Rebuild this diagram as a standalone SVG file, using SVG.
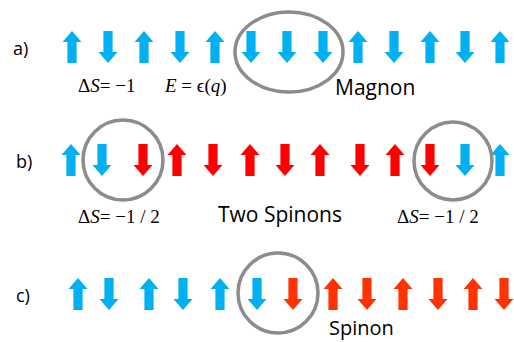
<svg xmlns="http://www.w3.org/2000/svg" width="514" height="342" viewBox="0 0 514 342">
<defs>
<path id="up" d="M0,0 L9.5,11 L4.6,11 L4.6,32 L-4.6,32 L-4.6,11 L-9.5,11 Z"/>
<path id="dn" d="M0,32 L9.5,21 L4.6,21 L4.6,0 L-4.6,0 L-4.6,21 L-9.5,21 Z"/>
</defs>
<style>
.b{fill:#00B0F0}
.r{fill:#FF0000}
.o{fill:#FF3300}
.ring{fill:none;stroke:#8C8C8C;stroke-width:3.5}
.lbl{font-family:"Open Sans","DejaVu Sans",sans-serif;font-size:18px;fill:#000}
.word{font-family:"Open Sans","DejaVu Sans",sans-serif;font-size:21px;fill:#000}
.math{font-family:"Liberation Serif","Times New Roman",serif;font-size:19px;fill:#000}
.it{font-style:italic}
</style>
<rect width="514" height="342" fill="#fff"/>
<g id="rowA">
<text class="lbl" x="13" y="55">a)</text>
<g transform="translate(0,31)">
<use href="#up" x="72" class="b"/><use href="#dn" x="108" class="b"/><use href="#up" x="144" class="b"/><use href="#dn" x="180" class="b"/><use href="#up" x="215" class="b"/><use href="#dn" x="251" class="b"/><use href="#dn" x="287" class="b"/><use href="#dn" x="323" class="b"/><use href="#up" x="358" class="b"/><use href="#dn" x="394" class="b"/><use href="#up" x="430" class="b"/><use href="#dn" x="465" class="b"/><use href="#up" x="500" class="b"/>
</g>
<ellipse class="ring" cx="289" cy="52" rx="54" ry="40"/>
<text class="math" x="78" y="92">Δ<tspan class="it">S</tspan>= −1</text>
<text class="math" x="165" y="92"><tspan class="it">E</tspan> = ϵ(<tspan class="it">q</tspan>)</text>
<text class="word" x="335" y="95">Magnon</text>
</g>
<g id="rowB">
<text class="lbl" x="16" y="168">b)</text>
<g transform="translate(0,144)">
<use href="#up" x="71" class="b"/><use href="#dn" x="102" class="b"/><use href="#dn" x="143" class="r"/><use href="#up" x="177" class="r"/><use href="#dn" x="213" class="r"/><use href="#up" x="250" class="r"/><use href="#dn" x="285" class="r"/><use href="#up" x="320" class="r"/><use href="#dn" x="360" class="r"/><use href="#up" x="395" class="r"/><use href="#dn" x="430" class="r"/><use href="#dn" x="465" class="b"/><use href="#up" x="500" class="b"/>
</g>
<circle class="ring" cx="123" cy="160" r="40"/>
<circle class="ring" cx="453" cy="161" r="39"/>
<text class="math" x="78" y="223">Δ<tspan class="it">S</tspan>= −1 / 2</text>
<text class="word" x="218" y="222">Two Spinons</text>
<text class="math" x="397" y="223">Δ<tspan class="it">S</tspan>= −1 / 2</text>
</g>
<g id="rowC">
<text class="lbl" x="16" y="302">c)</text>
<g transform="translate(0,278)">
<use href="#up" x="78" class="b"/><use href="#dn" x="109" class="b"/><use href="#up" x="149" class="b"/><use href="#dn" x="183" class="b"/><use href="#up" x="220" class="b"/><use href="#dn" x="257" class="b"/><use href="#dn" x="293" class="o"/><use href="#up" x="333" class="o"/><use href="#dn" x="367" class="o"/><use href="#up" x="403" class="o"/><use href="#dn" x="438" class="o"/><use href="#up" x="473" class="o"/><use href="#dn" x="504" class="o"/>
</g>
<circle class="ring" cx="278" cy="293" r="40"/>
<text class="word" x="329" y="335" style="font-size:20px">Spinon</text>
</g>
</svg>
